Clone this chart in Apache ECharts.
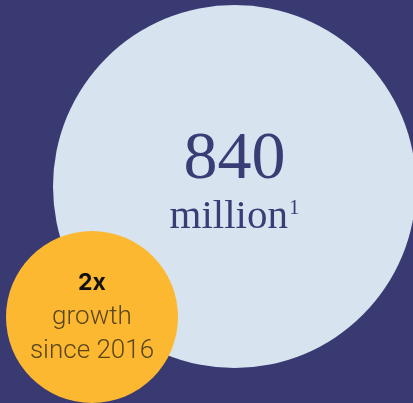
<!DOCTYPE html>
<html><head><meta charset="utf-8">
<script src="https://cdn.jsdelivr.net/npm/echarts@6/dist/echarts.min.js"></script>
<style>html,body{margin:0;padding:0;background:#393a72;}#c{width:413px;height:403px;}</style>
</head><body><div id="c"></div>
<script>
// Data
const bigValue = "840";
const bigUnit = "million";
const bigNote = "1";
const smallValue = "2x";
const smallText = ["growth", "since 2016"];
// bubble positions (in hidden axis units)
const bubbleX = [234.5, 92];
const bubbleY = [186.5, 317];

const chart = echarts.init(document.getElementById('c'), null, {renderer: 'canvas'});
chart.setOption({
  backgroundColor: '#393a72',
  animation: false,
  grid: {left: 0, right: 0, top: 0, bottom: 0},
  xAxis: {type: 'value', min: 0, max: 413, show: false},
  yAxis: {type: 'value', min: 0, max: 403, inverse: true, show: false},
  series: [
    {
      type: 'scatter', z: 1,
      symbolSize: 363,
      itemStyle: {color: '#d7e4f0', opacity: 1},
      data: [[bubbleX[0], bubbleY[0]]],
      label: {
        show: true, position: 'inside', offset: [0, -4],
        formatter: '{num|' + bigValue + '}\n{unit|' + bigUnit + '}{sup|' + bigNote + '}',
        rich: {
          num: {fontFamily: 'Liberation Serif', fontSize: 68, color: '#3a3d75', lineHeight: 70, align: 'center'},
          unit: {fontFamily: 'Liberation Serif', fontSize: 41, color: '#3a3d75', lineHeight: 44, align: 'center'},
          sup: {fontFamily: 'Liberation Serif', fontSize: 21, color: '#3a3d75', lineHeight: 44, verticalAlign: 'top', padding: [2, 0, 0, 1]}
        }
      }
    },
    {
      type: 'scatter', z: 2,
      symbolSize: 172,
      itemStyle: {color: '#fbb830', opacity: 1},
      data: [[bubbleX[1], bubbleY[1]]],
      label: {
        show: true, position: 'inside', offset: [0, 0],
        formatter: '{a|' + smallValue + '}\n{b|' + smallText[0] + '}\n{b|' + smallText[1] + '}',
        rich: {
          a: {fontFamily: 'Inter', fontWeight: 'bold', fontSize: 23, color: '#111111', lineHeight: 34, align: 'center'},
          b: {fontFamily: 'Roboto', fontWeight: 300, fontSize: 26, color: '#5a461a', lineHeight: 34, align: 'center'}
        }
      }
    }
  ]
});
</script></body></html>
